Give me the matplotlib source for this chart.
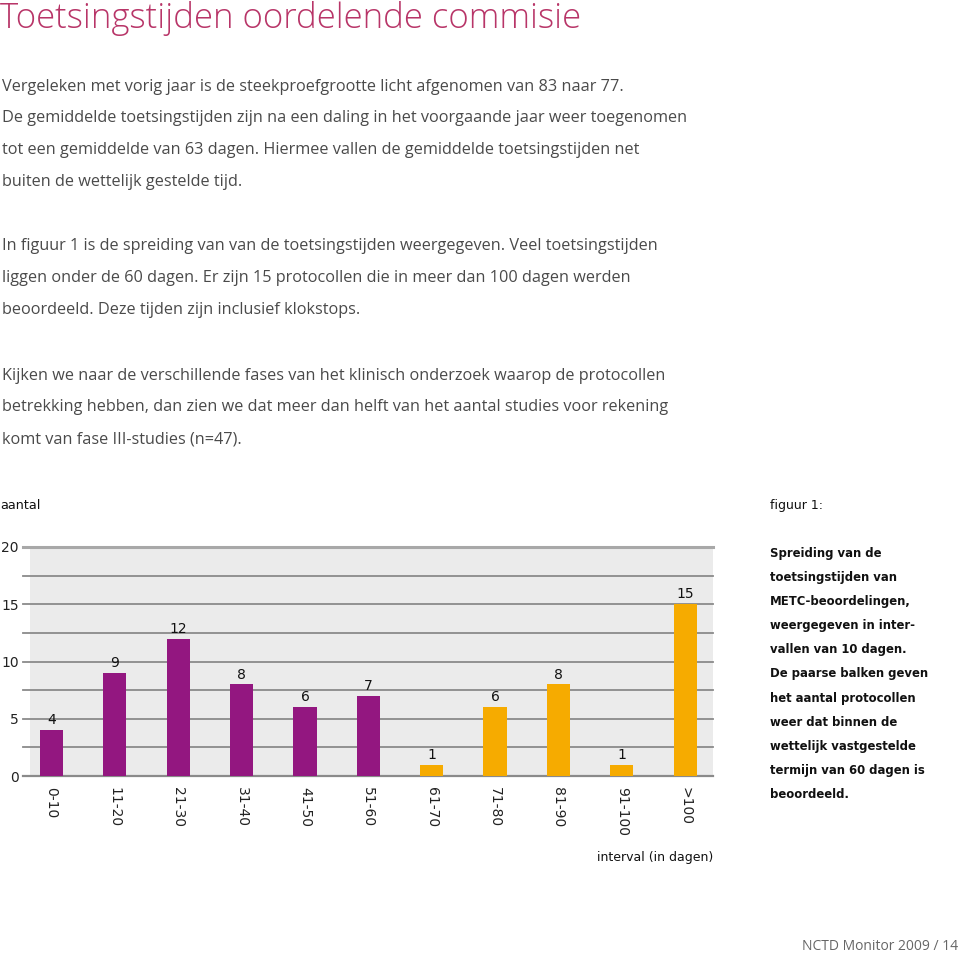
import matplotlib
matplotlib.use("Agg")
import matplotlib.pyplot as plt

categories = ["0-10", "11-20", "21-30", "31-40", "41-50", "51-60",
              "61-70", "71-80", "81-90", "91-100", ">100"]
values = [4, 9, 12, 8, 6, 7, 1, 6, 8, 1, 15]
within_term = [True, True, True, True, True, True,
               False, False, False, False, False]
yticks = [0, 5, 10, 15, 20]
gridlines = [2.5, 5, 7.5, 10, 12.5, 15, 17.5]

PURPLE = "#931780"
ORANGE = "#f6ab00"
TITLE_C = "#b83568"
BODY_C = "#4a4a4a"

fig = plt.figure(figsize=(9.6, 9.56), dpi=100)
W, H = 960, 956

def fx(px):
    return px / W

def fy(py):
    return 1 - py / H

fig.text(fx(0), fy(19), "Toetsingstijden oordelende commisie", color=TITLE_C,
         fontsize=25, family="Open Sans", weight="light", va="center", ha="left")

body = [
    (87, "Vergeleken met vorig jaar is de steekproefgrootte licht afgenomen van 83 naar 77."),
    (118, "De gemiddelde toetsingstijden zijn na een daling in het voorgaande jaar weer toegenomen"),
    (150, "tot een gemiddelde van 63 dagen. Hiermee vallen de gemiddelde toetsingstijden net"),
    (182, "buiten de wettelijk gestelde tijd."),
    (246, "In figuur 1 is de spreiding van van de toetsingstijden weergegeven. Veel toetsingstijden"),
    (278, "liggen onder de 60 dagen. Er zijn 15 protocollen die in meer dan 100 dagen werden"),
    (310, "beoordeeld. Deze tijden zijn inclusief klokstops."),
    (376, "Kijken we naar de verschillende fases van het klinisch onderzoek waarop de protocollen"),
    (407, "betrekking hebben, dan zien we dat meer dan helft van het aantal studies voor rekening"),
    (439, "komt van fase III-studies (n=47)."),
]
for y, t in body:
    fig.text(fx(2), fy(y), t, color=BODY_C, fontsize=11.7, family="Open Sans",
             va="center", ha="left")

# chart
ax = fig.add_axes([fx(30), fy(776), fx(713) - fx(30), fy(547) - fy(776)])
ax.set_facecolor("#ebebeb")
ax.set_xlim(-0.34, 10.44)
ax.set_ylim(0, 20)
for s in ax.spines.values():
    s.set_visible(False)

for g in gridlines:
    ax.axhline(g, xmin=-0.01, xmax=1, color="#8a8a8a", lw=1.3, clip_on=False, zorder=1)
ax.axhline(20, xmin=-0.01, xmax=1, color="#a8a8a8", lw=2.2, clip_on=False, zorder=1)
ax.axhline(0, xmin=-0.01, xmax=1, color="#8a8a8a", lw=1.6, clip_on=False, zorder=1)

xs = list(range(len(categories)))
colors = [PURPLE if w else ORANGE for w in within_term]
ax.bar(xs, values, width=0.365, color=colors, zorder=3)
for x, v in zip(xs, values):
    ax.text(x, v + 0.25, str(v), ha="center", va="bottom", fontsize=10, color="#111111")

ax.set_yticks(yticks)
ax.set_yticklabels([str(t) for t in yticks], fontsize=10, color="#222222")
ax.tick_params(axis="y", length=0, pad=8)
ax.set_xticks(xs)
ax.set_xticklabels(categories, rotation=-90, fontsize=10, color="#222222", va="top")
ax.tick_params(axis="x", length=0, pad=8)

fig.text(fx(0), fy(505), "aantal", fontsize=9.2, color="#111111", va="center", ha="left")
fig.text(fx(713), fy(858), "interval (in dagen)", fontsize=9, color="#111111",
         va="center", ha="right")
fig.text(fx(770), fy(505), "figuur 1:", fontsize=9, color="#111111", va="center", ha="left")

caption = ["Spreiding van de", "toetsingstijden van", "METC-beoordelingen,",
           "weergegeven in inter-", "vallen van 10 dagen.", "De paarse balken geven",
           "het aantal protocollen", "weer dat binnen de", "wettelijk vastgestelde",
           "termijn van 60 dagen is", "beoordeeld."]
for i, line in enumerate(caption):
    fig.text(fx(770), fy(553 + i * 24.2), line, fontsize=8.4, weight="bold",
             color="#111111", va="center", ha="left")

fig.text(fx(958), fy(946), "NCTD Monitor 2009 / 14", fontsize=10, family="Open Sans",
         color="#666666", va="center", ha="right")

fig.savefig("out.png", dpi=100, facecolor="white")
